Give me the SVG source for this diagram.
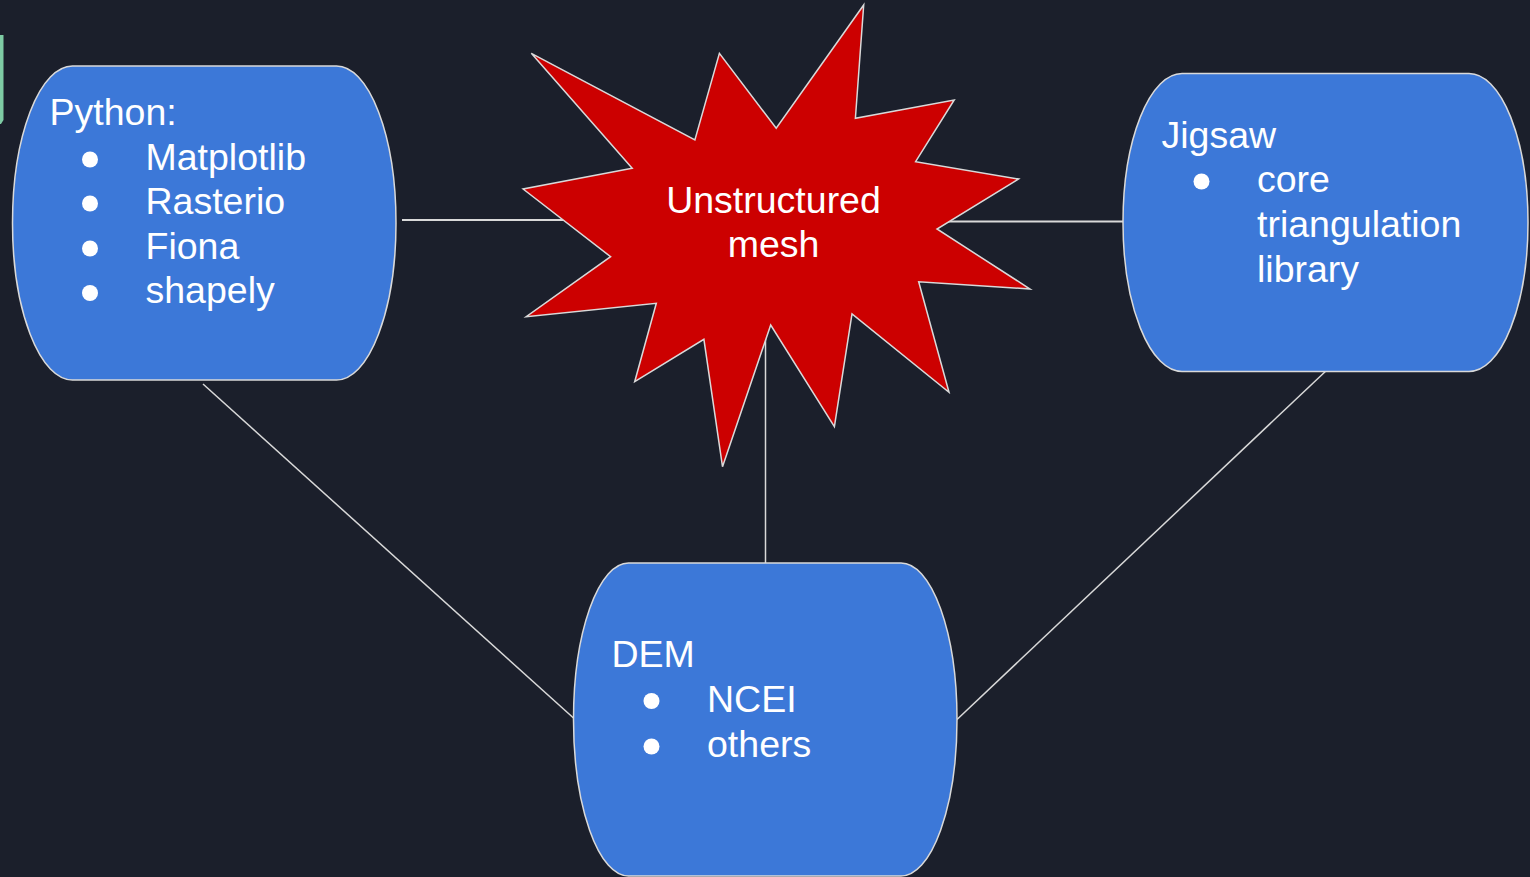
<svg xmlns="http://www.w3.org/2000/svg" width="1530" height="877" viewBox="0 0 1530 877">
<style>
.node{fill:#3c78d8;stroke:#d9d9d9;stroke-width:1.5}
.star{fill:#cc0000;stroke:#d9d9d9;stroke-width:1.5;stroke-linejoin:miter}
.conn{stroke:#d9d9d9;stroke-width:1.5;fill:none}
text{font-family:"Liberation Sans",Arial,sans-serif;font-size:37.5px;fill:#ffffff}
.bul{fill:#ffffff}
</style>
<rect x="0" y="0" width="1530" height="877" fill="#1b1f2b"/>
<path d="M0 35 H3.5 V120 L1 124 H0 Z" fill="#7ecba4"/>
<g id="connectors">
<line class="conn" x1="402" y1="220" x2="600" y2="220" style="stroke-width:2"/>
<line class="conn" x1="940" y1="221.5" x2="1128" y2="221.5" style="stroke-width:2"/>
<line class="conn" x1="765.5" y1="330" x2="765.5" y2="563"/>
<line class="conn" x1="203" y1="384" x2="573.5" y2="718"/>
<line class="conn" x1="1328" y1="369" x2="957" y2="719.5"/>
</g>
<g id="python">
<path class="node" d="M72.5 66 H336.5 A59.5 157 0 0 1 396 223 A59.5 157 0 0 1 336.5 380 H72.5 A60 157 0 0 1 12.5 223 A60 157 0 0 1 72.5 66 Z"/>
<text x="49.5" y="124.5">Python:</text>
<circle class="bul" cx="90" cy="159.5" r="8"/>
<circle class="bul" cx="90" cy="203.5" r="8"/>
<circle class="bul" cx="90" cy="248.5" r="8"/>
<circle class="bul" cx="90" cy="293" r="8"/>
<text x="145.5" y="170">Matplotlib</text>
<text x="145.5" y="214">Rasterio</text>
<text x="145.5" y="258.5">Fiona</text>
<text x="145.5" y="303">shapely</text>
</g>
<g id="jigsaw">
<path class="node" d="M1182 73.5 H1469 A59 149 0 0 1 1528 222.5 A59 149 0 0 1 1469 371.5 H1182 A59 149 0 0 1 1123 222.5 A59 149 0 0 1 1182 73.5 Z"/>
<text x="1161.5" y="147.5">Jigsaw</text>
<circle class="bul" cx="1201.5" cy="181.5" r="8"/>
<text x="1257" y="192">core</text>
<text x="1257" y="237">triangulation</text>
<text x="1257" y="281.5">library</text>
</g>
<g id="dem">
<path class="node" d="M628.5 563 H901 A56 156.5 0 0 1 957 719.5 A56 156.5 0 0 1 901 876 H628.5 A55 156.5 0 0 1 573.5 719.5 A55 156.5 0 0 1 628.5 563 Z"/>
<text x="611.5" y="667">DEM</text>
<circle class="bul" cx="651.5" cy="701" r="8"/>
<circle class="bul" cx="651.5" cy="746.5" r="8"/>
<text x="707" y="712">NCEI</text>
<text x="707" y="757">others</text>
</g>
<g id="mesh">
<polygon class="star" points="531.3,53.3 694.9,140 719.4,53.3 776.2,128.3 863.7,5 855.4,118.3 954.2,100 915.6,161.7 1018.6,179 937,229 1030,289 918.7,281.7 949,392.3 852,314 834.4,426.7 770.7,325 722.5,466.7 703.9,339.3 634.7,381.7 656.3,303.3 526.2,316.7 610.6,256.7 523.1,189 632.2,168.3"/>
<text x="773.5" y="212.5" text-anchor="middle">Unstructured</text>
<text x="773.5" y="257" text-anchor="middle">mesh</text>
</g>
</svg>
